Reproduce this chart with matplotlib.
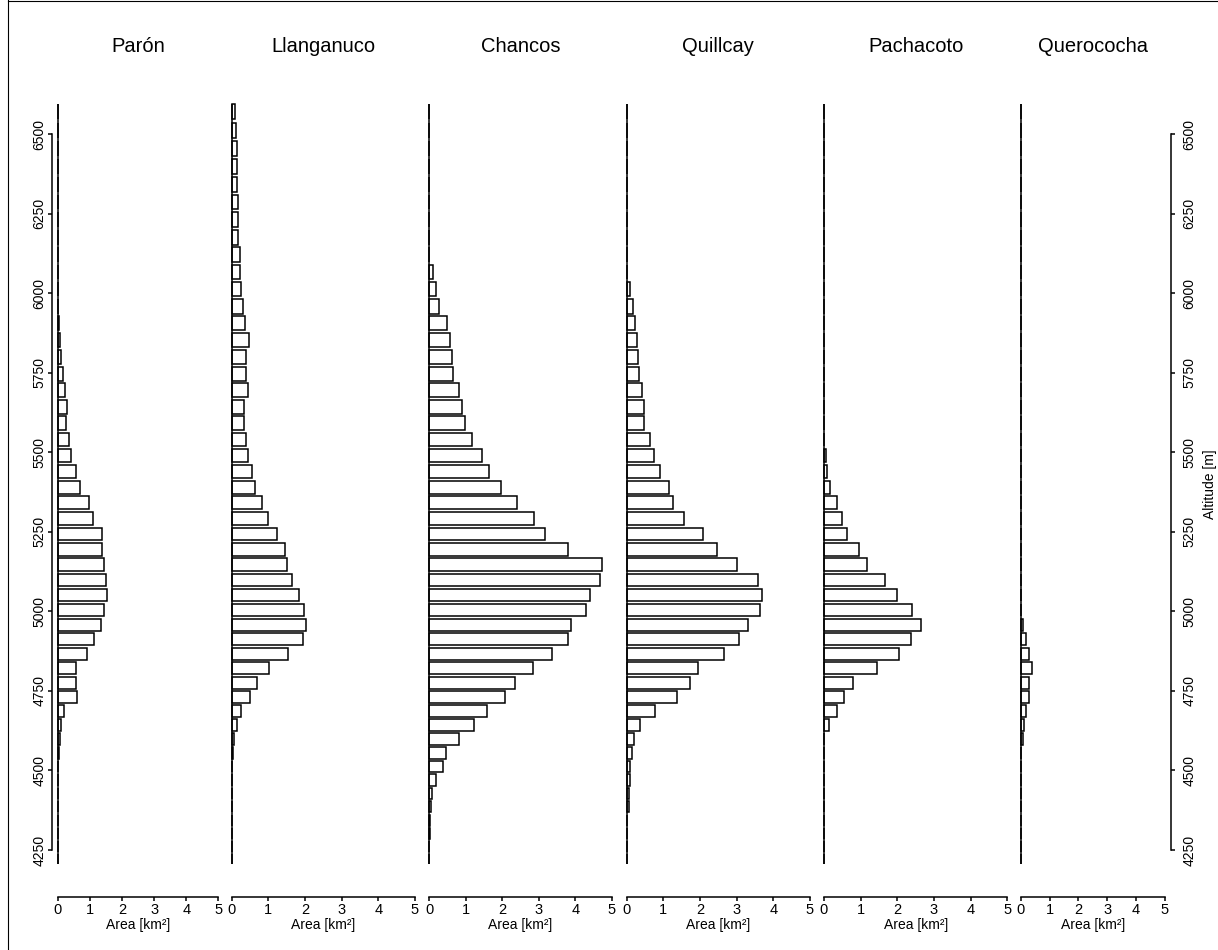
import numpy as np
import matplotlib
matplotlib.use("Agg")
import matplotlib.pyplot as plt
from matplotlib.lines import Line2D

plt.rcParams['font.family'] = ['Liberation Sans', 'DejaVu Sans']

# ---------------- data ----------------
catchments = ["Parón", "Llanganuco", "Chancos", "Quillcay", "Pachacoto", "Querococha"]
# lower bound of each 50 m elevation band (top to bottom)
band_lower = list(range(6600, 4150, -50))   # 49 bands

paron = [0, 0, 0, 0, 0, 0, 0, 0, 0, 0, 0,
         0.01, 0.03, 0.07, 0.08, 0.15, 0.21, 0.27, 0.26, 0.35, 0.42,
         0.57, 0.69, 0.96, 1.10, 1.36, 1.38, 1.45, 1.49, 1.54, 1.45,
         1.33, 1.12, 0.91, 0.55, 0.57, 0.60, 0.20, 0.10, 0.07, 0.03,
         0.01, 0, 0, 0, 0, 0, 0, 0]
llanganuco = [0.10, 0.13, 0.15, 0.14, 0.14, 0.16, 0.16, 0.18, 0.23, 0.24,
              0.245, 0.30, 0.37, 0.48, 0.40, 0.40, 0.44, 0.345, 0.345, 0.40,
              0.445, 0.545, 0.64, 0.82, 1.00, 1.24, 1.45, 1.51, 1.65, 1.84,
              1.97, 2.03, 1.95, 1.54, 1.02, 0.69, 0.50, 0.26, 0.15, 0.07,
              0.03, 0.01, 0, 0, 0, 0, 0, 0, 0]
chancos = [0, 0, 0, 0, 0, 0, 0, 0, 0,
           0.11, 0.19, 0.26, 0.48, 0.56, 0.63, 0.66, 0.82, 0.90, 0.99,
           1.18, 1.45, 1.64, 1.96, 2.41, 2.86, 3.16, 3.81, 4.74, 4.69,
           4.40, 4.29, 3.89, 3.80, 3.37, 2.85, 2.35, 2.08, 1.59, 1.23,
           0.82, 0.46, 0.38, 0.18, 0.08, 0.055, 0.02, 0.01, 0, 0]
quillcay = [0, 0, 0, 0, 0, 0, 0, 0,
            0.01, 0.02, 0.08, 0.18, 0.22, 0.29, 0.30, 0.33, 0.41, 0.48,
            0.48, 0.63, 0.74, 0.92, 1.15, 1.25, 1.55, 2.08, 2.46, 3.02,
            3.59, 3.70, 3.63, 3.30, 3.05, 2.66, 1.95, 1.74, 1.36, 0.78,
            0.37, 0.21, 0.145, 0.10, 0.09, 0.07, 0.05, 0.02, 0.01, 0, 0]
pachacoto = [0] * 20 + [0.05, 0.07, 0.17, 0.35, 0.50, 0.62, 0.95, 1.18, 1.67, 2.00,
                        2.41, 2.64, 2.38, 2.05, 1.45, 0.80, 0.55, 0.35, 0.15, 0.01] + [0] * 9
querococha = [0] * 30 + [0.02, 0.09, 0.18, 0.30, 0.39, 0.30, 0.28, 0.17, 0.115, 0.07] + [0] * 9

series = [paron, llanganuco, chancos, quillcay, pachacoto, querococha]

area_ticks = [0, 1, 2, 3, 4, 5]
alt_ticks = [4250, 4500, 4750, 5000, 5250, 5500, 5750, 6000, 6250, 6500]

# ---------------- layout ----------------
W, H = 1218, 950
fig = plt.figure(figsize=(W / 100, H / 100), dpi=100)

# panel x-extent in pixels (value 0 .. value 5)
panel_px = [(58.0, 218.3), (231.7, 415.0), (429.3, 611.7),
            (626.7, 810.0), (824.0, 1007.3), (1020.7, 1165.0)]

BW = 50.0
A_TOP = max(band_lower) + BW
K = 320.0


def fwd(a):
    s = (A_TOP - np.asarray(a, dtype=float)) / BW
    return -(s - s * s / K)


def inv(f):
    f = np.asarray(f, dtype=float)
    s = K / 2 - np.sqrt(np.clip((K / 2) ** 2 + K * f, 0, None))
    return A_TOP - BW * s


def px_of(a):
    return 104.2 - 18.37 * fwd(a)


A_LO = min(band_lower)
A_HI = A_TOP + 10
y_top_px = float(px_of(A_HI))
y_bot_px = float(px_of(A_LO))
axis_px = 896.7

lw = 1.1
bar_h = BW / 1.2
for name, vals, (x0, x5) in zip(catchments, series, panel_px):
    ax = fig.add_axes([x0 / W, 1 - y_bot_px / H, (x5 - x0) / W, (y_bot_px - y_top_px) / H])
    ax.set_yscale('function', functions=(fwd, inv))
    ax.set_xlim(0, 5)
    ax.set_ylim(A_LO, A_HI)
    ys = np.array(band_lower, dtype=float) + (BW - bar_h)
    ax.barh(ys, vals, height=bar_h, align='edge', color='white',
            edgecolor='black', linewidth=lw, clip_on=False, zorder=2)
    ax.plot([0, 0], [A_LO + (BW - bar_h), A_TOP], color='black', lw=lw,
            clip_on=False, zorder=3, solid_capstyle='butt')
    for sp in ['left', 'right', 'top']:
        ax.spines[sp].set_visible(False)
    ax.spines['bottom'].set_position(('outward', (axis_px - y_bot_px) * 0.72))
    ax.spines['bottom'].set_bounds(0, 5)
    ax.spines['bottom'].set_linewidth(1.1)
    ax.set_xticks(area_ticks)
    ax.set_xticklabels([str(t) for t in area_ticks])
    ax.tick_params(axis='x', direction='out', length=3, width=1.1, pad=1.5, labelsize=10.5)
    ax.set_yticks([])
    ax.patch.set_visible(False)
    xc = (x0 + x5) / 2
    fig.text(xc / W, 1 - 925 / H, "Area [km²]", ha='center', va='center', fontsize=10)
    fig.text(xc / W, 1 - 47 / H, name, ha='center', va='center', fontsize=14.5)

# altitude axes (left and right)
y6500, y4250 = 134.3, 850.0
for xpx, side in [(51.7, 'left'), (1170.7, 'right')]:
    axa = fig.add_axes([xpx / W, 1 - y4250 / H, 0.002, (y4250 - y6500) / H])
    axa.set_ylim(4250, 6500)
    axa.patch.set_visible(False)
    for sp in ['left', 'right', 'top', 'bottom']:
        axa.spines[sp].set_visible(sp == side)
    axa.spines[side].set_linewidth(1.1)
    axa.set_xticks([])
    if side == 'right':
        axa.spines['right'].set_position(('axes', 0))
        axa.yaxis.tick_right()
    axa.set_yticks(alt_ticks)
    axa.set_yticklabels([str(t) for t in alt_ticks])
    axa.tick_params(axis='y', direction='out', length=3, width=1.1,
                    pad=(1.0 if side == 'left' else 5.5), labelsize=10)
    for lab in axa.get_yticklabels():
        lab.set_rotation(90)
        lab.set_va('center')
        lab.set_ha('right' if side == 'left' else 'left')

fig.text(1210 / W, 1 - 484 / H, "Altitude [m]", rotation=90, ha='center', va='center', fontsize=10)

# outer frame
fig.add_artist(Line2D([8.3 / W, 8.3 / W], [0, 1], transform=fig.transFigure, color='black', lw=0.8))
fig.add_artist(Line2D([8.3 / W, 1], [1 - 1 / H, 1 - 1 / H], transform=fig.transFigure, color='black', lw=0.8))

fig.savefig("out.png", dpi=100)
